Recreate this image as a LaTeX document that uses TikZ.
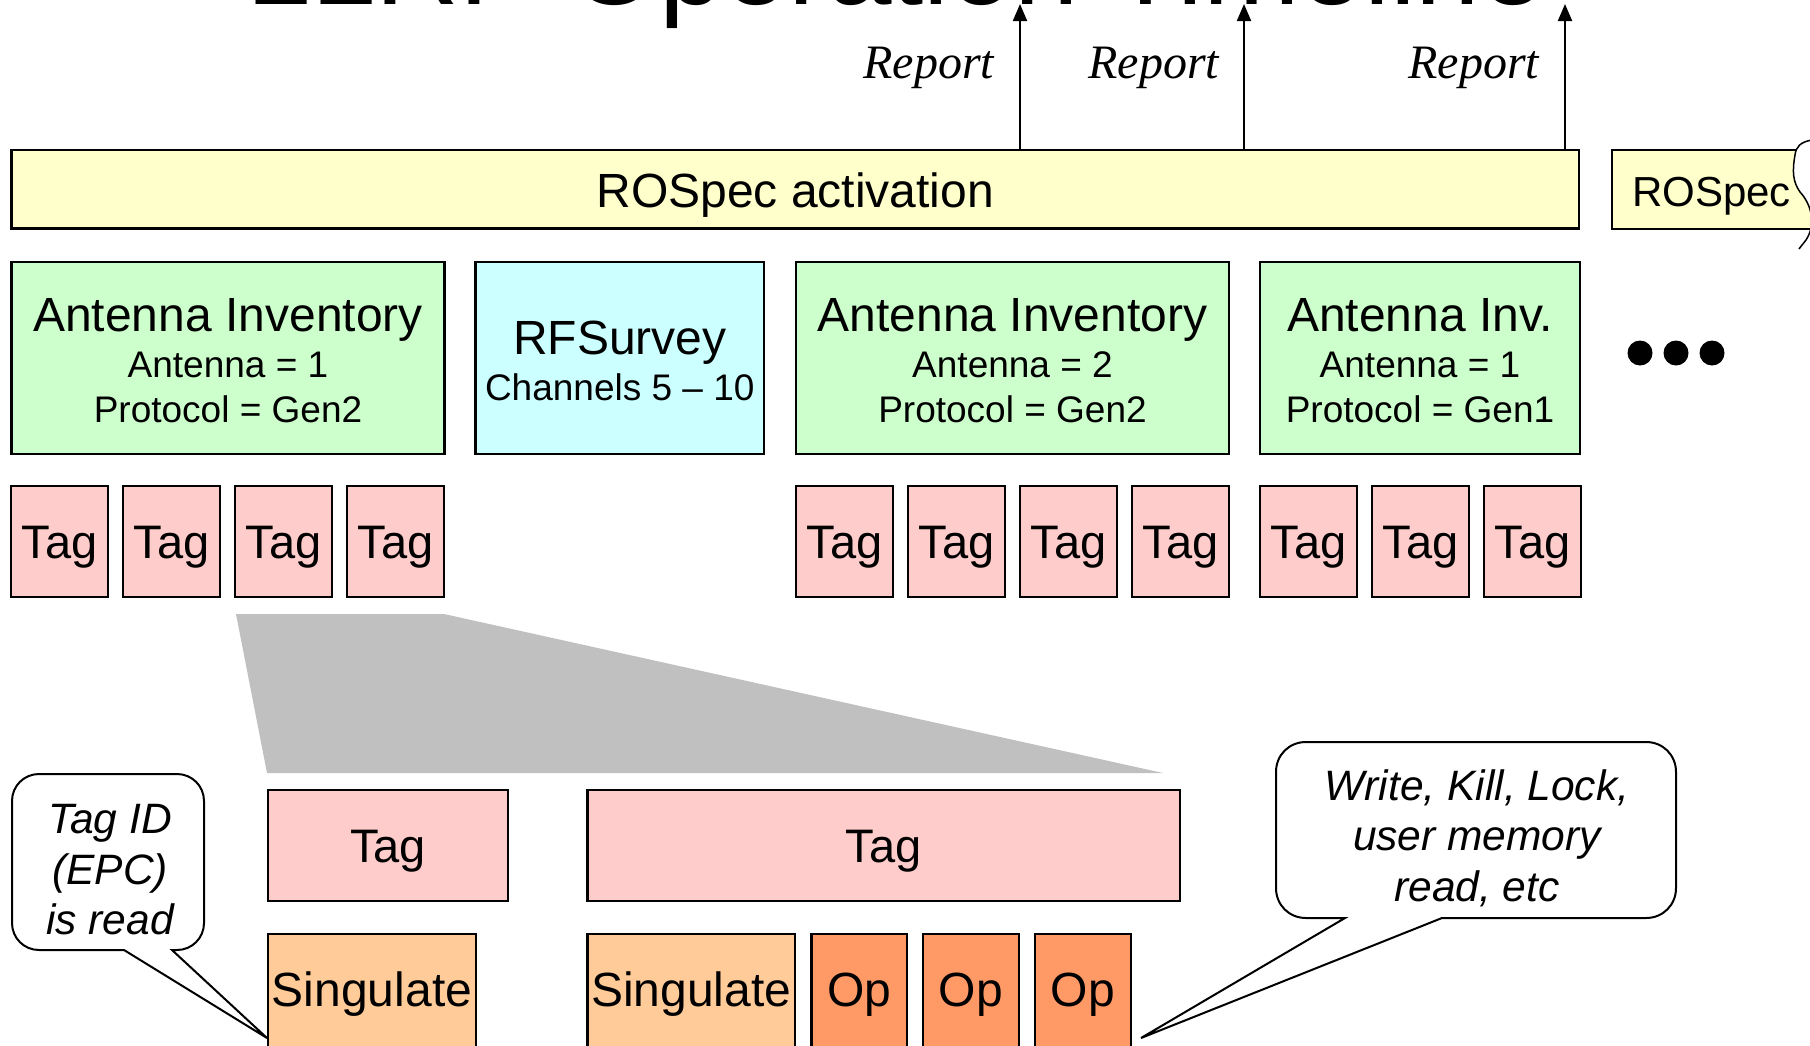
\documentclass[tikz,border=0pt]{standalone}
\usepackage{fontspec}
\setmainfont{Liberation Sans}
\newfontfamily\rptfont{Liberation Serif}
\usetikzlibrary{arrows.meta}
\definecolor{ylw}{HTML}{FFFFCC}
\definecolor{grn}{HTML}{CCFFCC}
\definecolor{cyn}{HTML}{CCFFFF}
\definecolor{pnk}{HTML}{FFCCCC}
\definecolor{sng}{HTML}{FFCC99}
\definecolor{opc}{HTML}{FF9966}
\definecolor{gry}{HTML}{C0C0C0}
\begin{document}
\begin{tikzpicture}[x=1pt,y=-1pt,
  box/.style={draw, line width=2.5pt, inner sep=0pt, outer sep=0pt},
  lbl/.style={inner sep=0pt, outer sep=0pt, anchor=base},
  big/.style={font=\fontsize{48}{56}\selectfont},
  sub/.style={font=\fontsize{37}{44}\selectfont},
  tagf/.style={font=\fontsize{47}{54}\selectfont},
  note/.style={font=\fontsize{42.5}{50}\selectfont\itshape},
  rptf/.style={font=\rptfont\itshape\fontsize{48}{56}\selectfont},
  tagbox/.style={box, fill=pnk, minimum width=97pt, minimum height=111pt},
  invbox/.style={box, fill=grn, minimum height=192pt},
  lowbox/.style={box, minimum height=140pt},
  rep/.style={line width=2pt, -{Triangle[length=17pt,width=14pt]}},
  callout/.style={draw, fill=white, line width=2pt, line join=miter}
]
\useasboundingbox (0,0) rectangle (1810,1045);
\clip (0,0) rectangle (1810,1045);

% title (cut off at the top, as in the reference)
\node[lbl, font=\fontsize{116}{130}\selectfont] (title) at (896,4) {LLRP Operation Timeline};

% ROSpec activation bar
\node[box, fill=ylw, minimum width=1567.5pt, minimum height=78.5pt] (act) at (795.25,189.25) {};
\node[lbl, big] (actT) at (795.25,207) {ROSpec activation};

% reports
\coordinate (r1) at (1020,4);
\coordinate (r2) at (1244,4);
\coordinate (r3) at (1565,4);
\draw[rep] (act.north -| r1) -- (r1);
\draw[rep] (act.north -| r2) -- (r2);
\draw[rep] (act.north -| r3) -- (r3);
\node[lbl, rptf, anchor=base east] (rp1) at (994,78) {Report};
\node[lbl, rptf, anchor=base east] (rp2) at (1219,78) {Report};
\node[lbl, rptf, anchor=base east] (rp3) at (1539,78) {Report};

% second ROSpec, torn at the right
\begin{scope}
\clip (1590,120) -- (1812,140) .. controls (1800,142) and (1796,147) .. (1795,155)
  .. controls (1792,172) and (1793,182) .. (1800,192)
  .. controls (1812,205) and (1816,225) .. (1806,240)
  .. controls (1803,244) and (1801,246) .. (1799,249) -- (1590,260) -- cycle;
\draw[line width=2.5pt, fill=ylw] (1612,150) rectangle (1900,229);
\end{scope}
\draw[line width=1.5pt] (1812,140) .. controls (1800,142) and (1796,147) .. (1795,155)
  .. controls (1792,172) and (1793,182) .. (1800,192)
  .. controls (1812,205) and (1816,225) .. (1806,240)
  .. controls (1803,244) and (1801,246) .. (1799,249);
\node[lbl, font=\fontsize{42}{50}\selectfont, anchor=base west] (rs2T) at (1632,206) {ROSpec};

% inventory boxes
\node[invbox, minimum width=433pt] (inv1) at (228,358) {};
\node[lbl, big] (inv1a) at (228,331) {Antenna Inventory};
\node[lbl, sub] (inv1b) at (228,377) {Antenna = 1};
\node[lbl, sub] (inv1c) at (228,422) {Protocol = Gen2};

\node[box, fill=cyn, minimum width=288.5pt, minimum height=192pt] (rf) at (619.75,358) {};
\node[lbl, big] (rfa) at (619.75,354) {RFSurvey};
\node[lbl, sub] (rfb) at (619.75,400) {Channels 5 – 10};

\node[invbox, minimum width=433pt] (inv2) at (1012.5,358) {};
\node[lbl, big] (inv2a) at (1012.5,331) {Antenna Inventory};
\node[lbl, sub] (inv2b) at (1012.5,377) {Antenna = 2};
\node[lbl, sub] (inv2c) at (1012.5,422) {Protocol = Gen2};

\node[invbox, minimum width=320pt] (inv3) at (1420,358) {};
\node[lbl, big] (inv3a) at (1420,331) {Antenna Inv.};
\node[lbl, sub] (inv3b) at (1420,377) {Antenna = 1};
\node[lbl, sub] (inv3c) at (1420,422) {Protocol = Gen1};

% ellipsis dots
\node[circle, fill, minimum size=25pt, inner sep=0pt] (d1) at (1640,353) {};
\node[circle, fill, minimum size=25pt, inner sep=0pt] (d2) at (1676,353) {};
\node[circle, fill, minimum size=25pt, inner sep=0pt] (d3) at (1712,353) {};

% tags
\foreach \n/\cx in {a1/59.5,a2/171.5,a3/283.5,a4/395.5,b1/844.5,b2/956.5,b3/1068.5,b4/1180.5,c1/1308.5,c2/1420.5,c3/1532.5}{
  \node[tagbox] (\n) at (\cx,541.5) {};
  \node[lbl, tagf] (t\n) at (\cx,558) {Tag};
}

% zoom funnel
\fill[gry] (236,614) -- (444,614) -- (1163,773) -- (267,773) -- cycle;

% expanded tags
\node[box, fill=pnk, minimum width=240pt, minimum height=111pt] (tagA) at (388,845.5) {};
\node[lbl, tagf] (tagAt) at (388,862) {Tag};
\node[box, fill=pnk, minimum width=592.5pt, minimum height=111pt] (tagB) at (883.75,845.5) {};
\node[lbl, tagf] (tagBt) at (883.75,862) {Tag};

\node[lowbox, fill=sng, minimum width=208pt] (s1) at (372,1004) {};
\node[lbl, big] (s1t) at (372,1006) {Singulate};
\node[lowbox, fill=sng, minimum width=207.5pt] (s2) at (691.25,1004) {};
\node[lbl, big] (s2t) at (691.25,1006) {Singulate};
\node[lowbox, fill=opc, minimum width=95.5pt] (o1) at (859.25,1004) {};
\node[lbl, big] (o1t) at (859.25,1006) {Op};
\node[lowbox, fill=opc, minimum width=96pt] (o2) at (971,1004) {};
\node[lbl, big] (o2t) at (971,1006) {Op};
\node[lowbox, fill=opc, minimum width=96pt] (o3) at (1083,1004) {};
\node[lbl, big] (o3t) at (1083,1006) {Op};

% callout 1
\draw[callout] (39,774) -- (177,774) .. controls (192,774) and (204,786) .. (204,801)
  -- (204,923) .. controls (204,938) and (192,950) .. (177,950) -- (172,950)
  -- (267,1038) -- (124,950) -- (39,950) .. controls (24,950) and (12,938) .. (12,923)
  -- (12,801) .. controls (12,786) and (24,774) .. (39,774) -- cycle;
\node[lbl, note] (n1a) at (110,833) {Tag ID};
\node[lbl, note] (n1b) at (110,884) {(EPC)};
\node[lbl, note] (n1c) at (110,934) {is read};

% callout 2
\draw[callout] (1306,742) -- (1646,742) .. controls (1663,742) and (1676,755) .. (1676,772)
  -- (1676,888) .. controls (1676,905) and (1663,918) .. (1646,918) -- (1442,918)
  -- (1141,1038) -- (1345,918) -- (1306,918) .. controls (1289,918) and (1276,905) .. (1276,888)
  -- (1276,772) .. controls (1276,755) and (1289,742) .. (1306,742) -- cycle;
\node[lbl, note] (n2a) at (1477,800) {Write, Kill, Lock,};
\node[lbl, note] (n2b) at (1477,850) {user memory};
\node[lbl, note] (n2c) at (1477,901) {read, etc};
\end{tikzpicture}
\end{document}
